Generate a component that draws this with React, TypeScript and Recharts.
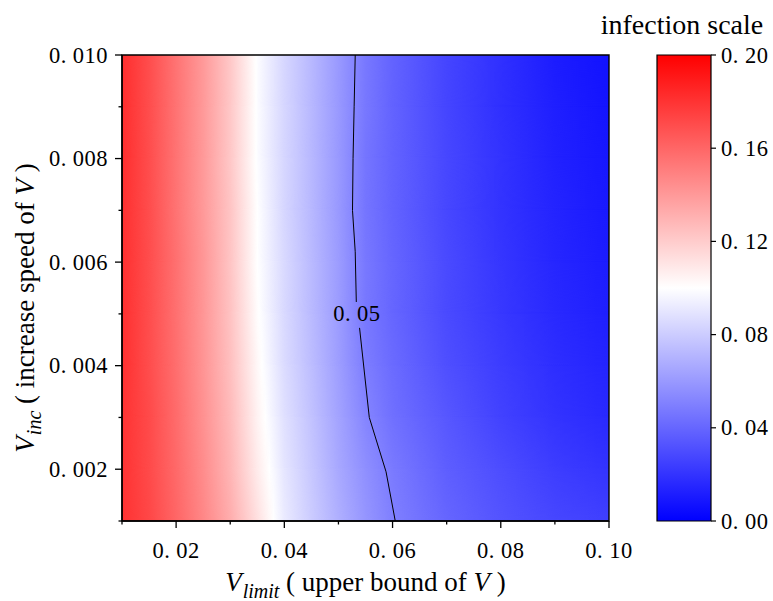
import React from 'react';
import { ScatterChart, Scatter, XAxis, YAxis, ReferenceArea } from 'recharts';

// grid of the contour map: columns along V_limit, rows along V_inc
const xCols = [0.01, 0.015, 0.02, 0.025, 0.03, 0.035, 0.04, 0.045, 0.05, 0.055, 0.06, 0.07, 0.08, 0.09, 0.1];
const yRows = [0.001, 0.002, 0.003, 0.004, 0.005, 0.006, 0.007, 0.008, 0.009, 0.01];

// infection value per row (same order as yRows), one value per column
const row001 = [0.180, 0.172, 0.160, 0.147, 0.132, 0.112, 0.092, 0.080, 0.069, 0.059, 0.050, 0.040, 0.033, 0.028, 0.025];
const row002 = [0.180, 0.171, 0.159, 0.145, 0.129, 0.108, 0.090, 0.078, 0.066, 0.056, 0.048, 0.037, 0.030, 0.024, 0.020];
const row003 = [0.180, 0.171, 0.158, 0.143, 0.127, 0.105, 0.088, 0.076, 0.064, 0.052, 0.044, 0.034, 0.026, 0.020, 0.016];
const row004 = [0.181, 0.170, 0.157, 0.142, 0.125, 0.103, 0.086, 0.074, 0.062, 0.049, 0.042, 0.031, 0.024, 0.018, 0.014];
const row005 = [0.181, 0.170, 0.156, 0.141, 0.124, 0.101, 0.085, 0.073, 0.061, 0.047, 0.040, 0.029, 0.022, 0.016, 0.012];
const row006 = [0.181, 0.170, 0.156, 0.141, 0.123, 0.100, 0.085, 0.073, 0.061, 0.047, 0.040, 0.029, 0.021, 0.015, 0.011];
const row007 = [0.181, 0.170, 0.155, 0.140, 0.123, 0.100, 0.084, 0.072, 0.060, 0.046, 0.039, 0.028, 0.020, 0.014, 0.010];
const row008 = [0.182, 0.170, 0.155, 0.140, 0.122, 0.099, 0.084, 0.072, 0.060, 0.046, 0.039, 0.028, 0.020, 0.013, 0.009];
const row009 = [0.182, 0.170, 0.155, 0.140, 0.122, 0.099, 0.084, 0.072, 0.060, 0.047, 0.039, 0.027, 0.019, 0.012, 0.008];
const row010 = [0.182, 0.170, 0.155, 0.140, 0.122, 0.099, 0.084, 0.072, 0.060, 0.047, 0.039, 0.027, 0.019, 0.011, 0.007];
const infection = [row001, row002, row003, row004, row005, row006, row007, row008, row009, row010];

// 0.05 contour, split where the inline label sits
const contourUpper = [
  { x: 0.0531, y: 0.01 },
  { x: 0.0529, y: 0.009 },
  { x: 0.0527, y: 0.008 },
  { x: 0.0526, y: 0.007 },
  { x: 0.0531, y: 0.0062 },
  { x: 0.0533, y: 0.00523 },
];
const contourLower = [
  { x: 0.0539, y: 0.00473 },
  { x: 0.0557, y: 0.003 },
  { x: 0.0588, y: 0.00195 },
  { x: 0.0605, y: 0.001 },
];
const contourLabel = [{ x: 0.0534, y: 0.005, text: '0.05' }];

const xTicks = [0.01, 0.02, 0.03, 0.04, 0.05, 0.06, 0.07, 0.08, 0.09, 0.1];
const yTicks = [0.001, 0.002, 0.003, 0.004, 0.005, 0.006, 0.007, 0.008, 0.009, 0.01];
const barTicks = [0, 0.04, 0.08, 0.12, 0.16, 0.2];

const VMIN = 0;
const VMAX = 0.2;
const SERIF = '"Liberation Serif", "Times New Roman", serif';
const TICK_FONT = 22.5;

// matplotlib 'bwr'
const bwr = (v: number) => {
  const t = Math.max(0, Math.min(1, (v - VMIN) / (VMAX - VMIN)));
  let r, g, b;
  if (t < 0.5) {
    r = g = Math.round(510 * t);
    b = 255;
  } else {
    r = 255;
    g = b = Math.round(510 * (1 - t));
  }
  return `rgb(${r},${g},${b})`;
};

const x0 = xCols[0];
const xSpan = xCols[xCols.length - 1] - xCols[0];
const mid = (VMIN + VMAX) / 2;

const rowStops = (vals: number[]) => {
  const stops: { off: number; color: string }[] = [];
  vals.forEach((v, k) => {
    stops.push({ off: (xCols[k] - x0) / xSpan, color: bwr(v) });
    const nv = vals[k + 1];
    if (nv !== undefined && (v - mid) * (nv - mid) < 0) {
      const f = (v - mid) / (v - nv);
      const xm = xCols[k] + f * (xCols[k + 1] - xCols[k]);
      stops.push({ off: (xm - x0) / xSpan, color: '#ffffff' });
    }
  });
  return stops;
};

const tickText = (v: number, digits: number) => {
  const [a, b] = v.toFixed(digits).split('.');
  return (
    <>
      {a}.<tspan dx={6}>{b}</tspan>
    </>
  );
};

const XTick = (props: any) => {
  const { x, y, payload } = props;
  const major = Math.round(payload.value * 100) % 2 === 0;
  return (
    <g>
      <line x1={x} y1={y} x2={x} y2={y + (major ? 7 : 3.5)} stroke="#000" strokeWidth={1.3} />
      {major && (
        <text x={x} y={y + 37} textAnchor="middle" fontFamily={SERIF} fontSize={TICK_FONT} fill="#000" letterSpacing={0.5}>
          {tickText(payload.value, 2)}
        </text>
      )}
    </g>
  );
};

const YTick = (props: any) => {
  const { x, y, payload } = props;
  const major = Math.round(payload.value * 1000) % 2 === 0;
  return (
    <g>
      <line x1={x} y1={y} x2={x - (major ? 7 : 3.5)} y2={y} stroke="#000" strokeWidth={1.3} />
      {major && (
        <text x={x - 14} y={y + 7.5} textAnchor="end" fontFamily={SERIF} fontSize={TICK_FONT} fill="#000" letterSpacing={0.5}>
          {tickText(payload.value, 3)}
        </text>
      )}
    </g>
  );
};

const BarTick = (props: any) => {
  const { x, y, payload } = props;
  return (
    <g>
      <line x1={x} y1={y} x2={x + 5} y2={y} stroke="#000" strokeWidth={1.2} />
      <text x={x + 10} y={y + 7.5} textAnchor="start" fontFamily={SERIF} fontSize={TICK_FONT} fill="#000" letterSpacing={0.5}>
        {tickText(payload.value, 2)}
      </text>
    </g>
  );
};

const XLabel = (props: any) => {
  const { x, y, width } = props.viewBox;
  return (
    <text x={x + width / 2} y={y + 70} textAnchor="middle" fontFamily={SERIF} fontSize={27} fill="#000">
      <tspan fontStyle="italic">V</tspan>
      <tspan fontStyle="italic" fontSize={20} dy={7} dx={1}>limit</tspan>
      <tspan dy={-7}> ( upper bound of </tspan>
      <tspan fontStyle="italic">V</tspan>
      <tspan> )</tspan>
    </text>
  );
};

const YLabel = (props: any) => {
  const { x, y, height } = props.viewBox;
  const cx = x + 12;
  const cy = y + height / 2 + 20;
  return (
    <text x={cx} y={cy} transform={`rotate(-90, ${cx}, ${cy})`} textAnchor="middle" fontFamily={SERIF} fontSize={27} fill="#000">
      <tspan fontStyle="italic">V</tspan>
      <tspan fontStyle="italic" fontSize={20} dy={7} dx={1}>inc</tspan>
      <tspan dy={-7}> ( increase speed of </tspan>
      <tspan fontStyle="italic">V</tspan>
      <tspan> )</tspan>
    </text>
  );
};

const NoDot = () => <g />;

const LabelDot = (props: any) => {
  const { cx, cy, payload } = props;
  return (
    <text x={cx} y={cy + 7.5} textAnchor="middle" fontFamily={SERIF} fontSize={TICK_FONT} fill="#000" letterSpacing={0.5}>
      {tickText(Number(payload.text), 2)}
    </text>
  );
};

const barPoints = barTicks.map((v) => ({ x: 0.5, y: v }));

export default function App() {
  return (
    <div style={{ position: 'absolute', left: 0, top: 0, width: 773, height: 601, background: '#fff' }}>
      <svg width={0} height={0} style={{ position: 'absolute' }}>
        <defs>
          {infection.map((vals, i) => (
            <linearGradient key={i} id={`row${i}`} x1="0" y1="0" x2="1" y2="0">
              {rowStops(vals).map((s, j) => (
                <stop key={j} offset={s.off} stopColor={s.color} />
              ))}
            </linearGradient>
          ))}
          <linearGradient id="fadeGrad" x1="0" y1="0" x2="0" y2="1">
            <stop offset={0} stopColor="#fff" />
            <stop offset={1} stopColor="#000" />
          </linearGradient>
          <mask id="fadeUp" maskUnits="objectBoundingBox" maskContentUnits="objectBoundingBox" x="0" y="0" width="1" height="1">
            <rect x={0} y={0} width={1} height={1} fill="url(#fadeGrad)" />
          </mask>
          <linearGradient id="cbar" x1="0" y1="0" x2="0" y2="1">
            <stop offset={0} stopColor={bwr(VMAX)} />
            <stop offset={0.5} stopColor={bwr(mid)} />
            <stop offset={1} stopColor={bwr(VMIN)} />
          </linearGradient>
        </defs>
      </svg>

      <div style={{ position: 'absolute', left: 0, top: 0 }}>
        <ScatterChart width={773} height={601} margin={{ top: 55, right: 164, bottom: 0, left: 22 }}>
          <XAxis
            type="number"
            dataKey="x"
            domain={[0.01, 0.1]}
            ticks={xTicks}
            allowDataOverflow
            height={80}
            tickSize={0}
            tickMargin={0}
            tickLine={false}
            axisLine={{ stroke: '#000', strokeWidth: 1.4 }}
            tick={<XTick />}
            interval={0}
            label={{ content: <XLabel /> }}
          />
          <YAxis
            type="number"
            dataKey="y"
            domain={[0.001, 0.01]}
            ticks={yTicks}
            allowDataOverflow
            width={100}
            tickSize={0}
            tickMargin={0}
            tickLine={false}
            axisLine={{ stroke: '#000', strokeWidth: 1.4 }}
            tick={<YTick />}
            interval={0}
            label={{ content: <YLabel /> }}
          />
          {/* band between two rows: lower row as base, upper row faded in towards the top */}
          {yRows.slice(0, -1).map((yv, i) => (
            <ReferenceArea
              key={`b${i}`}
              x1={xCols[0]}
              x2={xCols[xCols.length - 1]}
              y1={yv}
              y2={Math.min(0.01, yRows[i + 1] + 0.00004)}
              fill={`url(#row${i})`}
              fillOpacity={1}
              stroke="none"
            />
          ))}
          {yRows.slice(0, -1).map((yv, i) => (
            <ReferenceArea
              key={`t${i}`}
              x1={xCols[0]}
              x2={xCols[xCols.length - 1]}
              y1={yv}
              y2={Math.min(0.01, yRows[i + 1] + 0.00004)}
              fill={`url(#row${i + 1})`}
              fillOpacity={1}
              stroke="none"
              mask="url(#fadeUp)"
            />
          ))}
          <Scatter data={contourUpper} line={{ stroke: '#000', strokeWidth: 1 }} lineType="joint" shape={<NoDot />} isAnimationActive={false} />
          <Scatter data={contourLower} line={{ stroke: '#000', strokeWidth: 1 }} lineType="joint" shape={<NoDot />} isAnimationActive={false} />
          <Scatter data={contourLabel} shape={<LabelDot />} isAnimationActive={false} />
          <ReferenceArea x1={0.01} x2={0.1} y1={0.001} y2={0.01} fill="none" stroke="#000" strokeWidth={1.4} />
        </ScatterChart>
      </div>

      <div style={{ position: 'absolute', left: 640, top: 0 }}>
        <ScatterChart width={133} height={601} margin={{ top: 55, right: 2, bottom: 80, left: 17 }}>
          <XAxis type="number" dataKey="x" domain={[0, 1]} hide height={0} />
          <YAxis
            type="number"
            dataKey="y"
            orientation="right"
            domain={[VMIN, VMAX]}
            ticks={barTicks}
            width={60}
            tickSize={0}
            tickMargin={0}
            tickLine={false}
            axisLine={false}
            tick={<BarTick />}
            interval={0}
          />
          <ReferenceArea x1={0} x2={1} y1={VMIN} y2={VMAX} fill="url(#cbar)" fillOpacity={1} stroke="#000" strokeWidth={1.2} />
          <Scatter data={barPoints} shape={<NoDot />} isAnimationActive={false} />
        </ScatterChart>
      </div>

      <div
        style={{
          position: 'absolute',
          left: 582,
          top: 9,
          width: 200,
          textAlign: 'center',
          fontFamily: SERIF,
          fontSize: 28,
          lineHeight: '32px',
          color: '#000',
        }}
      >
        infection scale
      </div>
    </div>
  );
}
